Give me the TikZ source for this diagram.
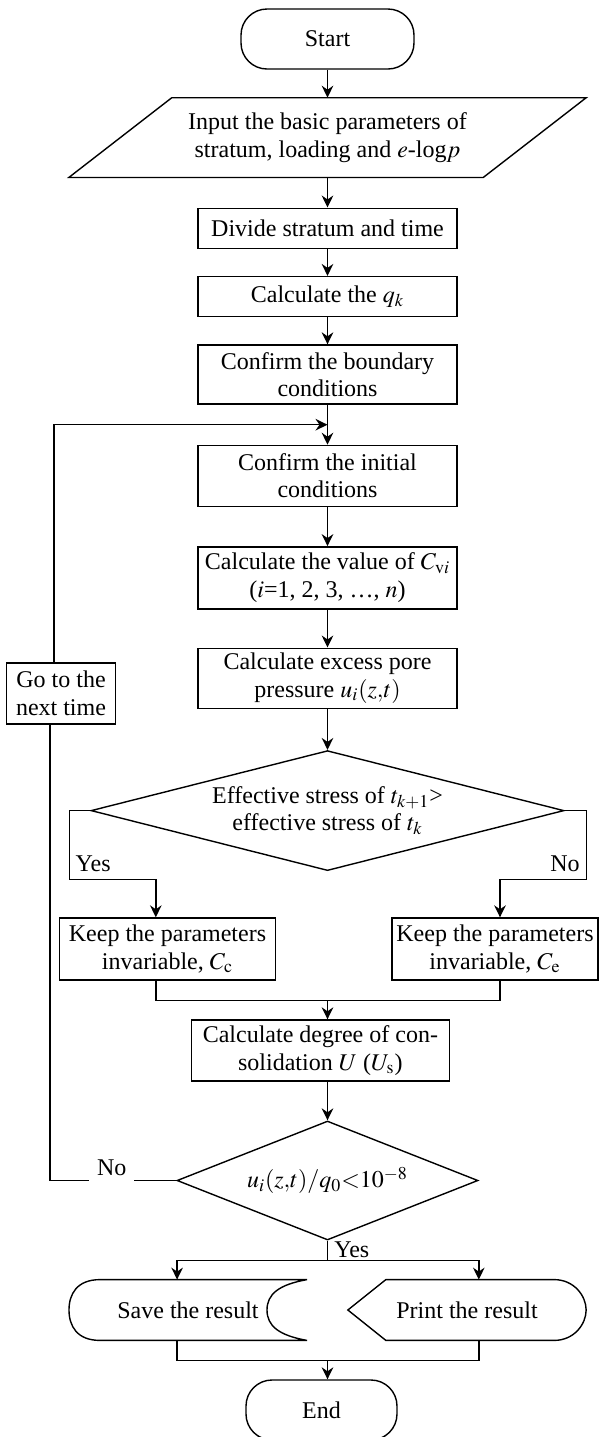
\documentclass[tikz,border=0pt]{standalone}
\usepackage{mathptmx}
\usepackage{fontspec}
\setmainfont{Liberation Serif}
\usetikzlibrary{shapes.geometric,arrows.meta,calc,positioning}

\begin{document}
\begin{tikzpicture}[x=0.5pt,y=-0.5pt,
  every node/.style={font=\fontsize{12}{13.75}\selectfont, align=center},
  line/.style={line width=0.7pt},
  flow/.style={line, -{Stealth[length=6pt,width=5.8pt,inset=2pt]}},
  term/.style={draw, line, rectangle, rounded corners=13pt, minimum height=30pt},
  proc/.style={draw, line, rectangle, minimum width=129.5pt, inner sep=2pt},
  io/.style={rectangle, minimum width=258.3pt, minimum height=39.5pt},
  dec/.style={draw, line, diamond, inner sep=0pt},
  lbl/.style={inner sep=0pt}]
  \useasboundingbox (0,0) rectangle (602,1437);

  % main column
  \node[term, minimum width=86.5pt] (start) at (327.5,39) {Start};
  \node[io, below=14pt of start] (input) {Input the basic parameters of\\stratum, loading and $e$-log$p$};
  \node[proc, minimum height=20pt, below=15pt of input] (divide) {Divide stratum and time};
  \node[proc, minimum height=20pt, below=13.5pt of divide] (qk) {Calculate the $q_k$};
  \node[proc, minimum height=29.5pt, below=13.5pt of qk] (bound) {Confirm the boundary\\conditions};
  \node[proc, minimum height=30.5pt, below=20pt of bound] (init) {Confirm the initial\\conditions};
  \node[proc, minimum height=31pt, below=19.5pt of init] (cvi) {Calculate the value of $C_{\mathrm{v}i}$\\($i$=1, 2, 3, …, $n$)};
  \node[proc, minimum height=30pt, below=19pt of cvi] (excess) {Calculate excess pore\\pressure $u_i(z{,}t)$};
  \node[dec, shape aspect=3.94, minimum width=236.5pt, minimum height=60pt, below=20.5pt of excess] (dec1) {Effective stress of $t_{k+1}$>\\effective stress of $t_k$};

  \node[proc, minimum width=108pt, minimum height=31pt] (keepc) at (167.5,949) {Keep the parameters\\invariable, $C_\mathrm{c}$};
  \node[proc, minimum width=103pt, minimum height=31pt, inner sep=1pt] (keepe) at (495,949) {Keep the parameters\\invariable, $C_\mathrm{e}$};
  \node[proc, minimum width=129pt, minimum height=30.5pt] (degree) at (320.4,1050.5) {Calculate degree of con-\\solidation $U$ ($U_\mathrm{s}$)};
  \node[dec, shape aspect=2.53, minimum width=150.5pt, minimum height=59.5pt] (dec2) at (327.5,1180.5) {$u_i(z{,}t)/q_0{<}10^{-8}$};
  \node[proc, minimum width=54.5pt, minimum height=30.5pt] (goto) at (61,693.5) {Go to the\\next time};

  \node[inner sep=0pt, minimum width=118.6pt, minimum height=30pt] (save) at (188,1310) {Save the result};
  \node[inner sep=0pt, minimum width=118.75pt, minimum height=30pt] (print) at (467,1310) {Print the result};
  \node[term, minimum width=75.5pt] (end) at (321.5,1410) {End};

  % outlines of input, save and print
  \draw[line] ($(input.north west)+(103,0)$) -- (input.north east)
    -- ($(input.south east)+(-103,0)$) -- (input.south west) -- cycle;
  \draw[line] (save.north east) -- ($(save.north west)+(31,0)$)
    .. controls ($(save.north west)+(8,0)$) and ($(save.west)+(0,-16)$) .. (save.west)
    .. controls ($(save.west)+(0,16)$) and ($(save.south west)+(8,0)$) .. ($(save.south west)+(31,0)$)
    -- (save.south east)
    .. controls ($(save.south east)+(-28,-5)$) and ($(save.east)+(-40,16)$) .. ($(save.east)+(-40,0)$)
    .. controls ($(save.east)+(-40,-16)$) and ($(save.north east)+(-28,5)$) .. (save.north east);
  \draw[line] (print.west) -- ($(print.north west)+(38,0)$) -- ($(print.north east)+(-32,0)$)
    .. controls ($(print.north east)+(-12,0)$) and ($(print.east)+(0,-14)$) .. (print.east)
    .. controls ($(print.east)+(0,14)$) and ($(print.south east)+(-12,0)$) .. ($(print.south east)+(-32,0)$)
    -- ($(print.south west)+(38,0)$) -- cycle;

  % connectors
  \draw[flow] (start) -- (input);
  \draw[flow] (input) -- (divide);
  \draw[flow] (divide) -- (qk);
  \draw[flow] (qk) -- (bound);
  \draw[flow] (bound) -- (init);
  \draw[flow] (init) -- (cvi);
  \draw[flow] (cvi) -- (excess);
  \draw[flow] (excess) -- (dec1);

  \coordinate (back) at ($(bound.south)!0.5!(init.north)$);
  \draw[flow] ([xshift=-3.6pt]goto.north) |- (back);

  \draw[flow] (dec1.west) -- ++(-21,0) |- ([shift={(-5.85pt,19pt)}]keepc.north) -- ([xshift=-5.85pt]keepc.north);
  \draw[flow] (dec1.east) -- ++(22,0) |- ([shift={(2.5pt,19pt)}]keepe.north) -- ([xshift=2.5pt]keepe.north);
  \node[lbl, anchor=base west] (yes1) at ($(dec1.west)+(-15,61)$) {Yes};
  \node[lbl, anchor=base east] (no1) at ($(dec1.east)+(15.3,61)$) {No};

  \coordinate (join1) at ($(keepc.south -| dec1.south)+(0,20)$);
  \draw[line] ([xshift=-5.85pt]keepc.south) |- (join1) -| ([xshift=2.5pt]keepe.south);
  \draw[flow] (join1) -- (join1 |- degree.north);
  \draw[flow] (dec2.north |- degree.south) -- (dec2.north);

  \draw[line] (dec2.west) -| ([xshift=-5.5pt]goto.south);
  \node[fill=white, inner xsep=3.9pt, inner ysep=3.2pt, text depth=0pt, anchor=base] (no2) at ($(dec2.west)+(-64.5,-5)$) {No};

  \coordinate (split) at ($(dec2.south)+(0,20)$);
  \draw[line] (dec2.south) -- (split);
  \draw[flow] (split) -| ([xshift=-5.45pt]save.north);
  \draw[flow] (split) -| ([xshift=5.9pt]print.north);
  \node[lbl, anchor=base west] (yes2) at ($(dec2.south)+(6.5,17)$) {Yes};

  \coordinate (join2) at ($(save.south -| split)+(0,20)$);
  \draw[line] ([xshift=-5.45pt]save.south) |- (join2) -| ([xshift=5.9pt]print.south);
  \draw[flow] (join2) -- (join2 |- end.north);
\end{tikzpicture}
\end{document}
